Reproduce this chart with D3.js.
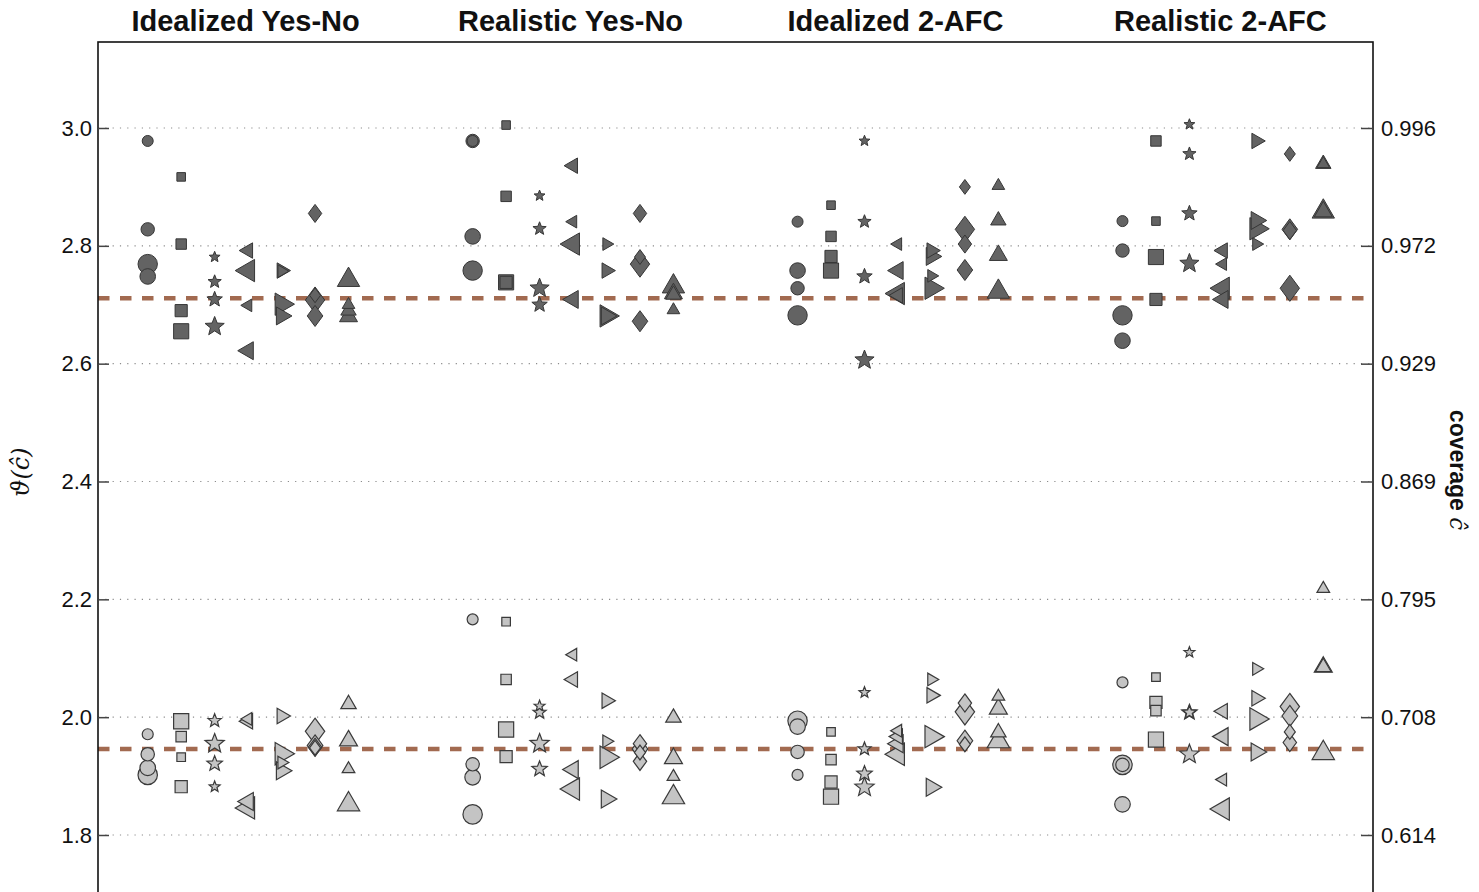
<!DOCTYPE html>
<html>
<head>
<meta charset="utf-8">
<script src="https://cdn.jsdelivr.net/npm/d3@7"></script>
<style>
  html, body { margin: 0; padding: 0; background: #fff; }
  svg { display: block; }
</style>
</head>
<body>
<div id="wrapper"></div>
<script>
/* DATA */
const panelTitles = ['Idealized Yes-No', 'Realistic Yes-No', 'Idealized 2-AFC', 'Realistic 2-AFC'];
const markerOrder = ['circle', 'square', 'star', 'triangleLeft', 'triangleRight', 'diamond', 'triangleUp'];
const thetaTicks = [1.8, 2.0, 2.2, 2.4, 2.6, 2.8, 3.0];
const coverageTickLabels = ['0.614', '0.708', '0.795', '0.869', '0.929', '0.972', '0.996'];
const referenceLevels = [2.711, 1.946];

// rows: [marker, theta, size class 1..4]
const idealYesNoDark = [
  ['circle', 2.978, 1], ['circle', 2.828, 2], ['circle', 2.748, 3], ['circle', 2.769, 4],
  ['square', 2.917, 1], ['square', 2.803, 2], ['square', 2.690, 3], ['square', 2.655, 4],
  ['star', 2.781, 1], ['star', 2.739, 2], ['star', 2.709, 3], ['star', 2.663, 4],
  ['triangleLeft', 2.699, 1], ['triangleLeft', 2.792, 2], ['triangleLeft', 2.622, 3], ['triangleLeft', 2.758, 4],
  ['triangleRight', 2.757, 1], ['triangleRight', 2.758, 2], ['triangleRight', 2.681, 3], ['triangleRight', 2.701, 4],
  ['diamond', 2.716, 1], ['diamond', 2.855, 2], ['diamond', 2.681, 3], ['diamond', 2.708, 4],
  ['triangleUp', 2.700, 1], ['triangleUp', 2.690, 2], ['triangleUp', 2.680, 3], ['triangleUp', 2.742, 4],
];
const idealYesNoLight = [
  ['circle', 1.971, 1], ['circle', 1.937, 2], ['circle', 1.914, 3], ['circle', 1.902, 4],
  ['square', 1.932, 1], ['square', 1.967, 2], ['square', 1.882, 3], ['square', 1.993, 4],
  ['star', 1.882, 1], ['star', 1.994, 2], ['star', 1.921, 3], ['star', 1.955, 4],
  ['triangleLeft', 1.997, 1], ['triangleLeft', 1.993, 2], ['triangleLeft', 1.857, 3], ['triangleLeft', 1.846, 4],
  ['triangleRight', 1.923, 1], ['triangleRight', 2.002, 2], ['triangleRight', 1.909, 3], ['triangleRight', 1.938, 4],
  ['diamond', 1.948, 1], ['diamond', 1.949, 2], ['diamond', 1.952, 3], ['diamond', 1.976, 4],
  ['triangleUp', 1.912, 1], ['triangleUp', 2.022, 2], ['triangleUp', 1.960, 3], ['triangleUp', 1.852, 4],
];
const realYesNoDark = [
  ['circle', 2.978, 1], ['circle', 2.978, 2], ['circle', 2.816, 3], ['circle', 2.758, 4],
  ['square', 3.005, 1], ['square', 2.884, 2], ['square', 2.738, 3], ['square', 2.738, 4],
  ['star', 2.885, 1], ['star', 2.829, 2], ['star', 2.700, 3], ['star', 2.728, 4],
  ['triangleLeft', 2.841, 1], ['triangleLeft', 2.936, 2], ['triangleLeft', 2.709, 3], ['triangleLeft', 2.803, 4],
  ['triangleRight', 2.803, 1], ['triangleRight', 2.758, 2], ['triangleRight', 2.681, 3], ['triangleRight', 2.681, 4],
  ['diamond', 2.781, 1], ['diamond', 2.855, 2], ['diamond', 2.672, 3], ['diamond', 2.769, 4],
  ['triangleUp', 2.691, 1], ['triangleUp', 2.717, 2], ['triangleUp', 2.719, 3], ['triangleUp', 2.731, 4],
];
const realYesNoLight = [
  ['circle', 2.166, 1], ['circle', 1.920, 2], ['circle', 1.898, 3], ['circle', 1.835, 4],
  ['square', 2.162, 1], ['square', 2.064, 2], ['square', 1.933, 3], ['square', 1.979, 4],
  ['star', 2.019, 1], ['star', 2.008, 2], ['star', 1.912, 3], ['star', 1.955, 4],
  ['triangleLeft', 2.106, 1], ['triangleLeft', 2.064, 2], ['triangleLeft', 1.911, 3], ['triangleLeft', 1.878, 4],
  ['triangleRight', 1.959, 1], ['triangleRight', 2.028, 2], ['triangleRight', 1.861, 3], ['triangleRight', 1.932, 4],
  ['diamond', 1.940, 1], ['diamond', 1.955, 2], ['diamond', 1.946, 3], ['diamond', 1.925, 2],
  ['triangleUp', 1.899, 1], ['triangleUp', 1.999, 2], ['triangleUp', 1.930, 3], ['triangleUp', 1.864, 4],
];
const ideal2afcDark = [
  ['circle', 2.841, 1], ['circle', 2.728, 2], ['circle', 2.758, 3], ['circle', 2.682, 4],
  ['square', 2.869, 1], ['square', 2.816, 2], ['square', 2.782, 3], ['square', 2.758, 4],
  ['star', 2.978, 1], ['star', 2.841, 2], ['star', 2.748, 3], ['star', 2.606, 4],
  ['triangleLeft', 2.803, 1], ['triangleLeft', 2.716, 2], ['triangleLeft', 2.758, 3], ['triangleLeft', 2.719, 4],
  ['triangleRight', 2.749, 1], ['triangleRight', 2.792, 2], ['triangleRight', 2.782, 3], ['triangleRight', 2.728, 4],
  ['diamond', 2.900, 1], ['diamond', 2.803, 2], ['diamond', 2.759, 3], ['diamond', 2.828, 4],
  ['triangleUp', 2.902, 1], ['triangleUp', 2.843, 2], ['triangleUp', 2.784, 3], ['triangleUp', 2.722, 4],
];
const ideal2afcLight = [
  ['circle', 1.902, 1], ['circle', 1.941, 2], ['circle', 1.984, 3], ['circle', 1.994, 4],
  ['square', 1.975, 1], ['square', 1.928, 2], ['square', 1.890, 3], ['square', 1.865, 4],
  ['star', 2.042, 1], ['star', 1.946, 2], ['star', 1.904, 3], ['star', 1.881, 4],
  ['triangleLeft', 1.977, 1], ['triangleLeft', 1.967, 2], ['triangleLeft', 1.955, 3], ['triangleLeft', 1.937, 4],
  ['triangleRight', 2.064, 1], ['triangleRight', 2.037, 2], ['triangleRight', 1.881, 3], ['triangleRight', 1.967, 4],
  ['diamond', 1.954, 1], ['diamond', 2.024, 2], ['diamond', 1.960, 3], ['diamond', 2.009, 4],
  ['triangleUp', 2.035, 1], ['triangleUp', 1.974, 2], ['triangleUp', 2.014, 3], ['triangleUp', 1.959, 4],
];
const real2afcDark = [
  ['circle', 2.842, 1], ['circle', 2.792, 2], ['circle', 2.639, 3], ['circle', 2.682, 4],
  ['square', 2.842, 1], ['square', 2.978, 2], ['square', 2.709, 3], ['square', 2.781, 4],
  ['star', 3.006, 1], ['star', 2.956, 2], ['star', 2.855, 3], ['star', 2.770, 4],
  ['triangleLeft', 2.769, 1], ['triangleLeft', 2.792, 2], ['triangleLeft', 2.709, 3], ['triangleLeft', 2.728, 4],
  ['triangleRight', 2.803, 1], ['triangleRight', 2.978, 2], ['triangleRight', 2.843, 3], ['triangleRight', 2.829, 4],
  ['diamond', 2.956, 1], ['diamond', 2.826, 2], ['diamond', 2.828, 3], ['diamond', 2.728, 4],
  ['triangleUp', 2.939, 1], ['triangleUp', 2.939, 2], ['triangleUp', 2.858, 3], ['triangleUp', 2.858, 4],
];
const real2afcLight = [
  ['circle', 2.059, 1], ['circle', 1.919, 2], ['circle', 1.852, 3], ['circle', 1.919, 4],
  ['square', 2.068, 1], ['square', 2.011, 2], ['square', 2.025, 3], ['square', 1.962, 4],
  ['star', 2.110, 1], ['star', 2.008, 2], ['star', 2.008, 3], ['star', 1.937, 4],
  ['triangleLeft', 1.894, 1], ['triangleLeft', 2.010, 2], ['triangleLeft', 1.967, 3], ['triangleLeft', 1.844, 4],
  ['triangleRight', 2.082, 1], ['triangleRight', 2.032, 2], ['triangleRight', 1.941, 3], ['triangleRight', 1.997, 4],
  ['diamond', 1.975, 1], ['diamond', 1.957, 2], ['diamond', 2.002, 3], ['diamond', 2.018, 4],
  ['triangleUp', 2.218, 1], ['triangleUp', 2.085, 2], ['triangleUp', 2.085, 3], ['triangleUp', 1.939, 4],
];

const darkSeries = [idealYesNoDark, realYesNoDark, ideal2afcDark, real2afcDark];
const lightSeries = [idealYesNoLight, realYesNoLight, ideal2afcLight, real2afcLight];

/* CHART DIMENSIONS */
const dimensions = {
  width: 1479,
  height: 892,
  margin: { top: 42, right: 106, left: 98 },
};
dimensions.right = dimensions.width - dimensions.margin.right;

/* SCALES */
const xScale = d3.scaleLinear()
  .domain([-0.462, 3.462])
  .range([dimensions.margin.left, dimensions.right]);

const yScale = d3.scaleLinear()
  .domain([1.8, 3.0])
  .range([835, 128]);

const offsetScale = d3.scalePoint()
  .domain(markerOrder)
  .range([-0.309, 0.309]);

const radiusScale = d3.scaleOrdinal()
  .domain([1, 2, 3, 4])
  .range([5.5, 6.7, 7.8, 9.7]);

function markerPath(shape, r) {
  const p = d3.path();
  const poly = pts => {
    pts.forEach(([x, y], i) => (i ? p.lineTo(x, y) : p.moveTo(x, y)));
    p.closePath();
  };
  const ngon = (R, angles) =>
    poly(angles.map(a => [R * Math.cos(a * Math.PI / 180), R * Math.sin(a * Math.PI / 180)]));

  if (shape === 'circle') {
    p.moveTo(r, 0);
    p.arc(0, 0, r, 0, 2 * Math.PI);
    p.closePath();
  } else if (shape === 'square') {
    const s = 0.78 * r;
    poly([[-s, -s], [s, -s], [s, s], [-s, s]]);
  } else if (shape === 'star') {
    const R = 1.04 * r;
    const pts = d3.range(10).map(k => {
      const a = (-90 + 36 * k) * Math.PI / 180;
      const rad = k % 2 ? 0.43 * R : R;
      return [rad * Math.cos(a), rad * Math.sin(a)];
    });
    poly(pts);
  } else if (shape === 'triangleUp') {
    ngon(1.33 * r, [-90, 30, 150]);
  } else if (shape === 'triangleLeft') {
    ngon(1.33 * r, [180, 300, 60]);
  } else if (shape === 'triangleRight') {
    ngon(1.33 * r, [0, 120, 240]);
  } else if (shape === 'diamond') {
    poly([[0, -1.35 * r], [r, 0], [0, 1.35 * r], [-r, 0]]);
  }
  return p.toString();
}

/* DRAW */
const wrapper = d3.select('#wrapper')
  .append('svg')
  .attr('width', dimensions.width)
  .attr('height', dimensions.height);

const fontSans = '"Liberation Sans", Arial, sans-serif';

// grid
wrapper.append('g')
  .selectAll('line')
  .data(thetaTicks)
  .join('line')
  .attr('x1', dimensions.margin.left)
  .attr('x2', dimensions.right)
  .attr('y1', d => yScale(d))
  .attr('y2', d => yScale(d))
  .attr('stroke', '#8c8c8c')
  .attr('stroke-width', 1.2)
  .attr('stroke-dasharray', '1.2 6.1');

// reference levels
wrapper.append('g')
  .selectAll('line')
  .data(referenceLevels)
  .join('line')
  .attr('x1', dimensions.margin.left)
  .attr('x2', dimensions.right)
  .attr('y1', d => yScale(d))
  .attr('y2', d => yScale(d))
  .attr('stroke', '#a26a50')
  .attr('stroke-width', 4.5)
  .attr('stroke-dasharray', '11.5 10.5');

// markers
function drawSeries(series, fill, stroke, strokeWidth) {
  series.forEach((rows, g) => {
    const sorted = rows.slice().sort((a, b) => b[2] - a[2]);
    wrapper.append('g')
      .selectAll('path')
      .data(sorted)
      .join('path')
      .attr('transform', d => `translate(${xScale(g + offsetScale(d[0]))},${yScale(d[1])})`)
      .attr('d', d => markerPath(d[0], radiusScale(d[2])))
      .attr('fill', fill)
      .attr('stroke', stroke)
      .attr('stroke-width', strokeWidth)
      .attr('stroke-linejoin', 'miter');
  });
}
drawSeries(darkSeries, '#636363', '#363636', 1);
drawSeries(lightSeries, '#c4c4c4', '#3a3a3a', 1.2);

// frame
wrapper.append('rect')
  .attr('x', dimensions.margin.left)
  .attr('y', dimensions.margin.top)
  .attr('width', dimensions.right - dimensions.margin.left)
  .attr('height', 900)
  .attr('fill', 'none')
  .attr('stroke', '#111')
  .attr('stroke-width', 1.6);

/* PERIPHERALS */
const leftAxis = wrapper.append('g')
  .attr('transform', `translate(${dimensions.margin.left},0)`)
  .call(d3.axisLeft(yScale)
    .tickValues(thetaTicks)
    .tickFormat(d3.format('.1f'))
    .tickSizeInner(-11)
    .tickSizeOuter(0)
    .tickPadding(6));

const rightAxis = wrapper.append('g')
  .attr('transform', `translate(${dimensions.right},0)`)
  .call(d3.axisRight(yScale)
    .tickValues(thetaTicks)
    .tickFormat((d, i) => coverageTickLabels[i])
    .tickSizeInner(-12)
    .tickSizeOuter(0)
    .tickPadding(8));

[leftAxis, rightAxis].forEach(axis => {
  axis.select('.domain').remove();
  axis.selectAll('.tick line')
    .attr('stroke', '#444')
    .attr('stroke-width', 1.5);
  axis.selectAll('.tick text')
    .attr('fill', '#111')
    .style('font-size', '22px')
    .style('font-family', fontSans);
});

// panel titles
wrapper.append('g')
  .selectAll('text')
  .data(panelTitles)
  .join('text')
  .attr('x', (d, i) => xScale(i) - 2.5)
  .attr('y', 31)
  .attr('text-anchor', 'middle')
  .attr('fill', '#111')
  .style('font-size', '29px')
  .style('font-weight', 'bold')
  .style('font-family', fontSans)
  .text(d => d);

// y labels
wrapper.append('text')
  .attr('transform', 'translate(29,472) rotate(-90)')
  .attr('text-anchor', 'middle')
  .attr('fill', '#111')
  .style('font-size', '24px')
  .style('font-style', 'italic')
  .style('font-family', '"DejaVu Serif", serif')
  .text('ϑ(ĉ)');

const rightLabel = wrapper.append('text')
  .attr('transform', 'translate(1450,470) rotate(90)')
  .attr('text-anchor', 'middle')
  .attr('fill', '#111')
  .style('font-size', '23px')
  .style('font-weight', 'bold')
  .style('font-family', fontSans);
rightLabel.append('tspan').text('coverage ');
rightLabel.append('tspan')
  .style('font-weight', 'normal')
  .style('font-style', 'italic')
  .style('font-family', '"DejaVu Serif", serif')
  .text('ĉ');
</script>
</body>
</html>
